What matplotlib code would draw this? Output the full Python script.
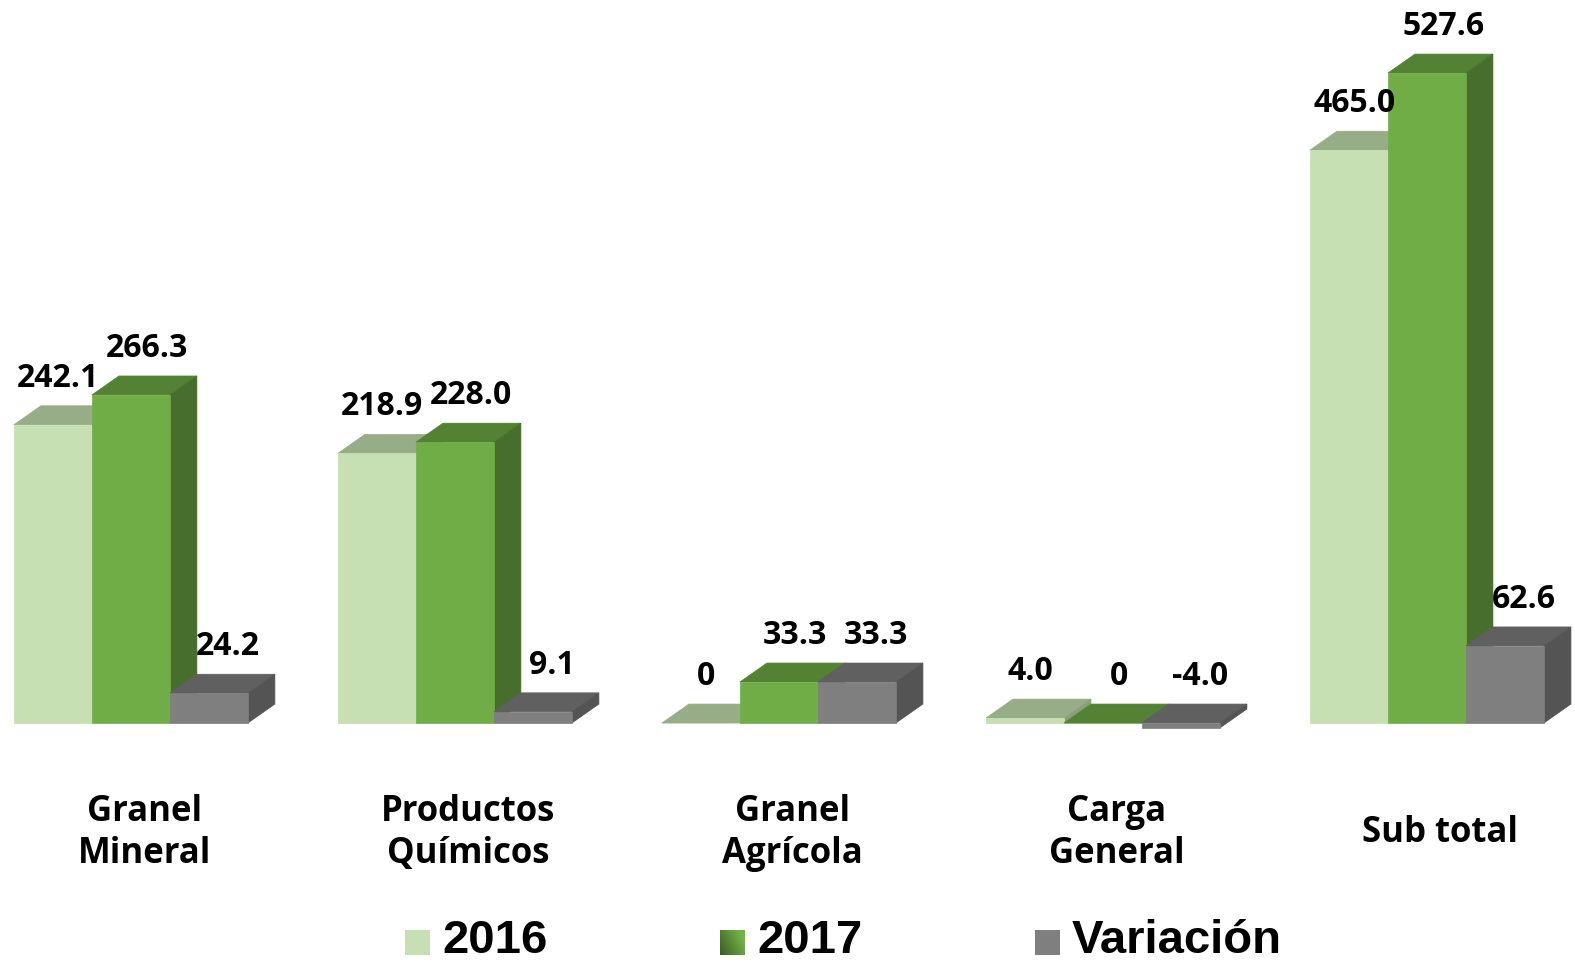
import numpy as np
import matplotlib.pyplot as plt
from matplotlib.patches import Polygon, Rectangle

# datos
categories = ['Granel\nMineral', 'Productos\nQuímicos', 'Granel\nAgrícola', 'Carga\nGeneral', 'Sub total']
series_names = ['2016', '2017', 'Variación']
v2016 = [242.1, 218.9, 0, 4.0, 465.0]
v2017 = [266.3, 228.0, 33.3, 0, 527.6]
variacion = [24.2, 9.1, 33.3, -4.0, 62.6]
series = [v2016, v2017, variacion]

# colores: frente, tapa, lateral
front_colors = ['#C6E0B4', '#70AD47', '#7F7F7F']
top_colors = ['#97AD88', '#548235', '#606060']
side_colors = ['#8AA07C', '#476E2C', '#545454']

W, H = 1575, 963
fig = plt.figure(figsize=(W / 100, H / 100), dpi=100)
ax = fig.add_axes([0, 0, 1, 1])
ax.set_xlim(-0.404, 4.457)
ax.set_ylim(-194.8, 586.9)
ax.axis('off')

width = 78 / 324      # ancho de barra en unidades de grupo
dx = 27 / 324         # profundidad horizontal
dy = 15.4             # profundidad vertical (unidades del eje)
label_shift = [0.2, 0.6, 0.7]   # desplazamiento de etiquetas (en fracciones de dx)

x = np.arange(len(categories))

for j, vals in enumerate(series):
    xs = x + (j - 1) * width
    vals = np.array(vals, dtype=float)
    bottoms = np.minimum(vals, 0)
    heights = np.abs(vals)
    ax.bar(xs, heights, width=width, bottom=bottoms, color=front_colors[j],
           edgecolor=front_colors[j], linewidth=0.5, zorder=3 * j + 3)
    for xc, v in zip(xs, vals):
        left, right = xc - width / 2, xc + width / 2
        top = max(v, 0)
        low = min(v, 0)
        # tapa
        ax.add_patch(Polygon([(left, top), (right, top), (right + dx, top + dy), (left + dx, top + dy)],
                             closed=True, facecolor=top_colors[j], edgecolor=top_colors[j],
                             linewidth=0.5, zorder=3 * j + 2))
        # lateral
        ax.add_patch(Polygon([(right, low), (right + dx, low + dy), (right + dx, top + dy), (right, top)],
                             closed=True, facecolor=side_colors[j], edgecolor=side_colors[j],
                             linewidth=0.5, zorder=3 * j + 2))
        label = '0' if v == 0 else f'{v:.1f}'
        ax.text(xc + dx * label_shift[j], top + dy + 9, label, ha='center', va='bottom',
                fontsize=23, fontweight='bold', family='Open Sans', color='black', zorder=20)

# etiquetas de categoria
for i, cat in enumerate(categories):
    ax.text(i + dx / 2, -89.5, cat, ha='center', va='center', fontsize=25,
            fontweight='bold', family='Open Sans', linespacing=1.22)

# leyenda manual
sq = 25
leg_x = [405, 720, 1035]
for j, name in enumerate(series_names):
    px = leg_x[j]
    if j == 1:
        lax = fig.add_axes([px / W, (H - 955) / H, sq / W, sq / H])
        gx = np.linspace(0, 1, 50)
        g = np.clip(gx[None, :] * 0.8 + gx[::-1, None] * 0.4, 0, 1)
        c0 = np.array([0x3A, 0x5E, 0x22]) / 255
        c1 = np.array([0x74, 0xB2, 0x4A]) / 255
        img = c0[None, None, :] * (1 - g[..., None]) + c1[None, None, :] * g[..., None]
        lax.imshow(img, aspect='auto', extent=[0, 1, 0, 1])
        lax.axis('off')
    else:
        fig.patches.append(Rectangle((px / W, (H - 955) / H), sq / W, sq / H,
                                     transform=fig.transFigure, facecolor=front_colors[j],
                                     edgecolor='none'))
    fig.text((px + 37) / W, (H - 953) / H, name, ha='left', va='baseline',
             fontsize=34, fontweight='bold', family='Liberation Sans')

fig.savefig('out.png', dpi=100)
